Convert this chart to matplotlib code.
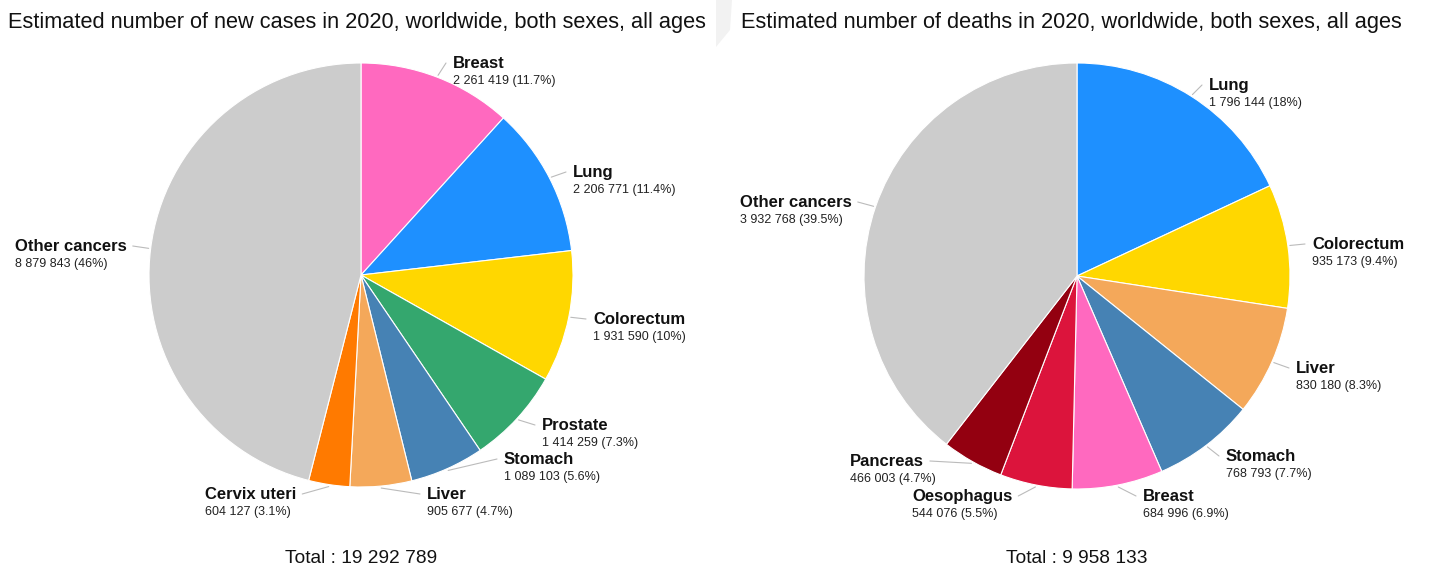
import matplotlib
matplotlib.use("Agg")
import matplotlib.pyplot as plt
import numpy as np

plt.rcParams['font.family'] = ['Liberation Sans', 'DejaVu Sans']

# data
cases_labels = ['Breast', 'Lung', 'Colorectum', 'Prostate', 'Stomach', 'Liver',
                'Cervix uteri', 'Other cancers']
cases_values = [2261419, 2206771, 1931590, 1414259, 1089103, 905677, 604127, 8879843]
cases_colors = ['#FF69BF', '#1E90FF', '#FFD700', '#34A76E', '#4682B4', '#F4A85A',
                '#FF7A00', '#CCCCCC']

deaths_labels = ['Lung', 'Colorectum', 'Liver', 'Stomach', 'Breast', 'Oesophagus',
                 'Pancreas', 'Other cancers']
deaths_values = [1796144, 935173, 830180, 768793, 684996, 544076, 466003, 3932768]
deaths_colors = ['#1E90FF', '#FFD700', '#F4A85A', '#4682B4', '#FF69BF', '#DC143C',
                 '#930010', '#CCCCCC']

cases_title = 'Estimated number of new cases in 2020, worldwide, both sexes, all ages'
deaths_title = 'Estimated number of deaths in 2020, worldwide, both sexes, all ages'

# layout (image pixel coords: x, baseline y of the name; side of the leader line)
cases_pos = [(453, 68, 'r'), (573, 177, 'r'), (593, 324, 'r'), (542, 430, 'r'),
             (504, 464, 'r'), (427, 499, 'r'), (205, 499, 'l'), (15, 251, 'l')]
deaths_pos = [(1209, 90, 'r'), (1312, 249, 'r'), (1296, 373, 'r'), (1226, 461, 'r'),
              (1143, 501, 'r'), (912, 501, 'l'), (850, 466, 'l'), (740, 207, 'l')]

W, H = 1432, 569


def Y(y):
    return H - y


def fmt(v):
    return f"{v:,}".replace(",", " ")


def pct(v, total):
    s = f"{100 * v / total:.1f}"
    if s.endswith('.0'):
        s = s[:-2]
    return s + '%'


fig = plt.figure(figsize=(W / 100, H / 100), dpi=100)
ax = fig.add_axes([0, 0, 1, 1])
renderer = fig.canvas.get_renderer()


def draw_pie(values, labels, colors, center, radius, positions, title, title_x, total_x):
    total = sum(values)
    wedges, _ = ax.pie(values, colors=colors, startangle=90, counterclock=False,
                       center=(center[0], Y(center[1])), radius=radius,
                       wedgeprops=dict(edgecolor='white', linewidth=0.8))
    # pie resets the limits; put the pixel frame back before measuring text
    ax.set_xlim(0, W)
    ax.set_ylim(0, H)
    ax.set_aspect('auto')
    for w, lab, v, (tx, ty, side) in zip(wedges, labels, values, positions):
        t = ax.text(tx, Y(ty), lab, fontsize=12, fontweight='bold', color='#111111',
                    ha='left', va='baseline')
        ax.text(tx, Y(ty + 16), f"{fmt(v)} ({pct(v, total)})", fontsize=9,
                color='#222222', ha='left', va='baseline')
        mid = np.deg2rad((w.theta1 + w.theta2) / 2)
        sx = center[0] + (radius + 2) * np.cos(mid)
        sy = Y(center[1]) + (radius + 2) * np.sin(mid)
        if side == 'r':
            ex = tx - 7
        else:
            bb = t.get_window_extent(renderer)
            ex = bb.x1 + 6
        ey = Y(ty - 5)
        ax.plot([sx, ex], [sy, ey], color='#BBBBBB', lw=0.8, solid_capstyle='round')
    ax.text(title_x, Y(28), title, fontsize=15.7, color='#111111', ha='left', va='baseline')
    ax.text(total_x, Y(563), f"Total : {fmt(total)}", fontsize=13.8, color='#111111',
            ha='center', va='baseline')


draw_pie(cases_values, cases_labels, cases_colors, (361, 275), 212, cases_pos,
         cases_title, 8, 361)
draw_pie(deaths_values, deaths_labels, deaths_colors, (1077, 276), 213, deaths_pos,
         deaths_title, 741, 1077)

# faint divider shadow between the two panels
ax.fill([716, 732, 730, 716], [Y(0), Y(0), Y(30), Y(47)], color='#F2F2F2', lw=0, zorder=0)

ax.set_xlim(0, W)
ax.set_ylim(0, H)
ax.axis('off')

fig.savefig('out.png', dpi=100)
